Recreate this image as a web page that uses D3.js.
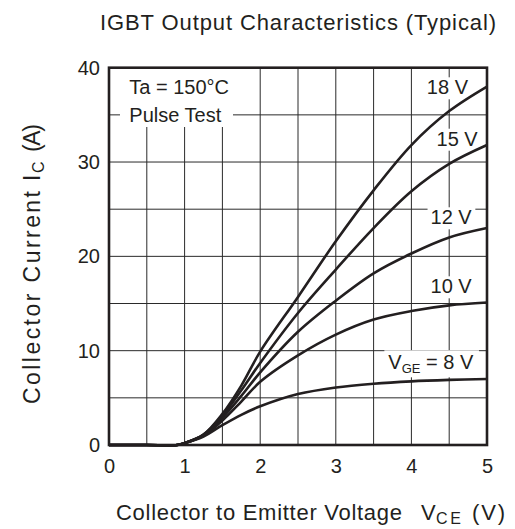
<!DOCTYPE html>
<html><head><meta charset="utf-8">
<script src="https://cdn.jsdelivr.net/npm/d3@7"></script>
<style>html,body{margin:0;padding:0;background:#fff}svg{display:block}text{font-family:"Liberation Sans",Arial,Helvetica,sans-serif;fill:#231f20}</style>
</head><body>
<script>
const vce  = [0, 0.5, 0.9, 1.0, 1.25, 1.5, 1.75, 2.0, 2.5, 3.0, 3.5, 4.0, 4.5, 5.0];
const ic18 = [0, 0, 0, 0.2, 1.1, 3.3, 6.3, 9.9, 15.7, 21.6, 27.0, 31.8, 35.4, 38.0];
const ic15 = [0, 0, 0, 0.2, 1.1, 3.1, 5.8, 8.7, 14.0, 18.6, 23.0, 26.9, 29.8, 31.8];
const ic12 = [0, 0, 0, 0.2, 1.05, 2.9, 5.2, 7.7, 12.0, 15.3, 18.2, 20.3, 22.0, 23.0];
const ic10 = [0, 0, 0, 0.2, 1.0, 2.6, 4.6, 6.7, 9.5, 11.7, 13.3, 14.2, 14.8, 15.1];
const ic8  = [0, 0, 0, 0.2, 0.9, 2.1, 3.2, 4.1, 5.4, 6.1, 6.5, 6.75, 6.9, 7.0];
const seriesNames = ["18 V", "15 V", "12 V", "10 V", "8 V"];
const xTicks = [0, 1, 2, 3, 4, 5];
const yTicks = [0, 10, 20, 30, 40];
const xGrid = [0.5, 1, 1.5, 2, 2.5, 3, 3.5, 4, 4.5];
const yGrid = [5, 10, 15, 20, 25, 30, 35];

const W = 515, H = 529;
const svg = d3.select("body").append("svg").attr("width", W).attr("height", H);
const x = d3.scaleLinear().domain([0, 5]).range([109, 487]);
const y = d3.scaleLinear().domain([0, 40]).range([445, 67.7]);

// grid
const g = svg.append("g").attr("stroke", "#2a2a2a").attr("stroke-width", 1);
xGrid.forEach(v => g.append("line").attr("x1", x(v)).attr("x2", x(v)).attr("y1", y(0)).attr("y2", y(40)));
yGrid.forEach(v => g.append("line").attr("y1", y(v)).attr("y2", y(v)).attr("x1", x(0)).attr("x2", x(5)));

// annotation box top-left
svg.append("rect").attr("x", 120).attr("y", 68).attr("width", 113).attr("height", 59).attr("fill", "#fff");

// curve labels with white boxes
const labels = [
  {t: "18 V", x: 468, y: 94.3},
  {t: "15 V", x: 477.7, y: 145.7},
  {t: "12 V", x: 471.7, y: 224.3},
  {t: "10 V", x: 471.7, y: 293.3},
];
const lblG = svg.append("g");
labels.forEach(l => {
  const t = lblG.append("text").attr("x", l.x).attr("y", l.y).attr("text-anchor", "end").attr("font-size", 20).text(l.t);
  const b = t.node().getBBox();
  lblG.insert("rect", "text").attr("x", b.x - 3).attr("y", b.y + 1).attr("width", b.width + 6).attr("height", b.height).attr("fill", "#fff");
});
{
  const t = lblG.append("text").attr("x", 473.3).attr("y", 369.3).attr("text-anchor", "end").attr("font-size", 20);
  t.append("tspan").text("V");
  t.append("tspan").attr("font-size", 13).attr("dy", 4).text("GE");
  t.append("tspan").attr("dy", -4).text(" = 8 V");
  const b = t.node().getBBox();
  lblG.insert("rect", "text").attr("x", b.x - 4).attr("y", b.y - 1).attr("width", b.width + 9).attr("height", b.height + 2).attr("fill", "#fff");
}

// curves
const series = [ic18, ic15, ic12, ic10, ic8];
const line = d3.line().x(d => x(d[0])).y(d => y(Math.max(0, d[1]))).curve(d3.curveCatmullRom.alpha(0.5));
series.forEach((s, i) => {
  svg.append("path").datum(vce.map((v, j) => [v, s[j]]))
    .attr("d", line).attr("fill", "none").attr("stroke", "#231f20").attr("stroke-width", 2.6)
    .attr("data-name", seriesNames[i]);
});

// frame
svg.append("rect").attr("x", x(0)).attr("y", y(40)).attr("width", x(5) - x(0)).attr("height", y(0) - y(40))
  .attr("fill", "none").attr("stroke", "#231f20").attr("stroke-width", 2.6);

// axes (labels only)
const xAxis = d3.axisBottom(x).tickValues(xTicks).tickSize(0).tickPadding(14).tickFormat(d3.format("d"));
const gx = svg.append("g").attr("transform", `translate(0,${y(0)})`).call(xAxis);
gx.select(".domain").remove();
gx.selectAll("text").attr("font-size", 20).attr("fill", "#231f20").attr("font-family", '"Liberation Sans",Arial,sans-serif');
const yAxis = d3.axisLeft(y).tickValues(yTicks).tickSize(0).tickPadding(9).tickFormat(d3.format("d"));
const gy = svg.append("g").attr("transform", `translate(${x(0)},0)`).call(yAxis);
gy.select(".domain").remove();
gy.selectAll("text").attr("font-size", 20).attr("fill", "#231f20").attr("font-family", '"Liberation Sans",Arial,sans-serif');

// annotation text
svg.append("text").attr("x", 129.3).attr("y", 94.3).attr("font-size", 20).text("Ta = 150\u00B0C");
svg.append("text").attr("x", 129.3).attr("y", 121.7).attr("font-size", 20).text("Pulse Test");

// title
svg.append("text").attr("x", 100).attr("y", 30).attr("font-size", 22)
  .attr("textLength", 396).attr("lengthAdjust", "spacing")
  .text("IGBT Output Characteristics (Typical)");

// x label
svg.append("text").attr("x", 116).attr("y", 519.5).attr("font-size", 22)
  .attr("textLength", 286).attr("lengthAdjust", "spacing").text("Collector to Emitter Voltage");
svg.append("text").attr("x", 421).attr("y", 519.5).attr("font-size", 22).text("V");
svg.append("text").attr("x", 436).attr("y", 524).attr("font-size", 16)
  .attr("textLength", 25).attr("lengthAdjust", "spacing").text("CE");
svg.append("text").attr("x", 472).attr("y", 519.5).attr("font-size", 22)
  .attr("textLength", 33).attr("lengthAdjust", "spacing").text("(V)");

// y label (rotated pieces)
const yl = svg.append("g").attr("transform", "translate(40,0) rotate(-90)");
yl.append("text").attr("x", -404).attr("y", 0).attr("font-size", 23)
  .attr("textLength", 213).attr("lengthAdjust", "spacing").text("Collector Current");
yl.append("text").attr("x", -181).attr("y", 0).attr("font-size", 23).text("I");
yl.append("text").attr("x", -173).attr("y", 4).attr("font-size", 16).text("C");
yl.append("text").attr("x", -152).attr("y", 0).attr("font-size", 23)
  .attr("textLength", 28).attr("lengthAdjust", "spacing").text("(A)");
</script>
</body></html>
